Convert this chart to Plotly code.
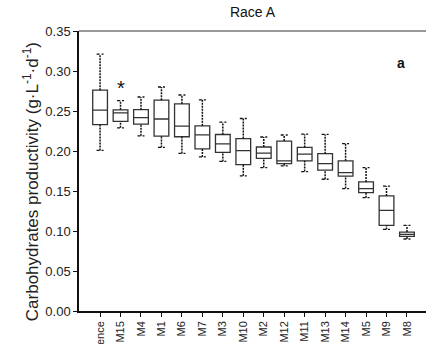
import plotly.graph_objects as go

categories = ["Reference", "M15", "M4", "M1", "M6", "M7", "M3", "M10",
              "M2", "M12", "M11", "M13", "M14", "M5", "M9", "M8"]
whisk_hi = [0.321, 0.263, 0.2675, 0.280, 0.270, 0.264, 0.236, 0.2406,
            0.2175, 0.220, 0.221, 0.2207, 0.2093, 0.1793, 0.156, 0.107]
q3 = [0.276, 0.2515, 0.2516, 0.2635, 0.259, 0.2315, 0.2206, 0.2155,
      0.205, 0.2124, 0.2045, 0.1966, 0.1877, 0.1614, 0.1438, 0.0986]
median = [0.251, 0.2476, 0.2416, 0.240, 0.231, 0.2201, 0.2089, 0.2005,
          0.1973, 0.1877, 0.196, 0.1843, 0.173, 0.153, 0.1259, 0.0957]
q1 = [0.233, 0.237, 0.2336, 0.2185, 0.2178, 0.2027, 0.1983, 0.183,
      0.1907, 0.1843, 0.1877, 0.176, 0.1685, 0.148, 0.107, 0.0932]
whisk_lo = [0.2007, 0.229, 0.219, 0.2045, 0.197, 0.1926, 0.187, 0.169,
            0.1793, 0.1815, 0.1743, 0.1647, 0.153, 0.1417, 0.102, 0.090]
y_ticks = [0.00, 0.05, 0.10, 0.15, 0.20, 0.25, 0.30, 0.35]

FONT = "Liberation Sans, Arial, sans-serif"
idx = list(range(len(categories)))

fig = go.Figure()

# whiskers (dotted)
wx, wy = [], []
for i in idx:
    wx += [i, i, None, i, i, None]
    wy += [q3[i], whisk_hi[i], None, whisk_lo[i], q1[i], None]
fig.add_trace(go.Scatter(x=wx, y=wy, mode="lines",
                         line=dict(color="#111", width=1.5, dash="2px,1px"),
                         hoverinfo="skip", showlegend=False))
# caps
cx, cy = [], []
half = 0.17
for i in idx:
    cx += [i - half, i + half, None, i - half, i + half, None]
    cy += [whisk_hi[i], whisk_hi[i], None, whisk_lo[i], whisk_lo[i], None]
fig.add_trace(go.Scatter(x=cx, y=cy, mode="lines",
                         line=dict(color="#111", width=1.3, dash="3px,2px"),
                         hoverinfo="skip", showlegend=False))
# boxes
fig.add_trace(go.Box(x=idx, q1=q1, median=median, q3=q3,
                     lowerfence=q1, upperfence=q3,
                     width=0.72, whiskerwidth=0,
                     line=dict(color="#333", width=1.3),
                     fillcolor="rgba(255,255,255,0)",
                     showlegend=False, hoverinfo="skip"))

fig.add_annotation(x=1, y=whisk_hi[1], yshift=13, text="*", showarrow=False,
                   font=dict(family=FONT, size=20, color="#111"))
fig.add_annotation(xref="paper", yref="paper", x=0.945, y=0.921, text="<b>a</b>",
                   showarrow=False, font=dict(family=FONT, size=14, color="#111"))
fig.add_annotation(xref="paper", yref="paper", x=0, xshift=-48, y=0.46,
                   xanchor="center", yanchor="middle", textangle=-90,
                   text="Carbohydrates productivity (g·L<sup>-1</sup>·d<sup>-1</sup>)",
                   showarrow=False, font=dict(family=FONT, size=17, color="#222"))
fig.add_shape(type="line", xref="paper", yref="paper", x0=0, x1=1, y0=1, y1=1,
              line=dict(color="#777", width=1.5))

fig.update_layout(
    width=426, height=344,
    margin=dict(l=79, r=0, t=31, b=33),
    paper_bgcolor="white", plot_bgcolor="white",
    font=dict(family=FONT, color="#222"),
    title=dict(text="Race A", x=0.5, xref="paper", y=1 - 12 / 344, yref="container",
               xanchor="center", yanchor="middle",
               font=dict(family=FONT, size=14, color="#111")),
    xaxis=dict(range=[-1.03, 15.93], tickvals=idx, ticktext=categories,
               tickangle=-90, ticks="outside", ticklen=4, tickcolor="#111",
               showline=True, linecolor="#111", linewidth=1.5,
               showgrid=False, zeroline=False, automargin=False,
               tickfont=dict(family=FONT, size=11, color="#222")),
    yaxis=dict(range=[0, 0.35], tickvals=y_ticks, tickformat=".2f",
               ticks="outside", ticklen=4, tickcolor="#111",
               showline=True, linecolor="#111", linewidth=1.5,
               showgrid=False, zeroline=False, automargin=False,
               tickfont=dict(family=FONT, size=13, color="#222")),
)

fig.write_html("out.html")
